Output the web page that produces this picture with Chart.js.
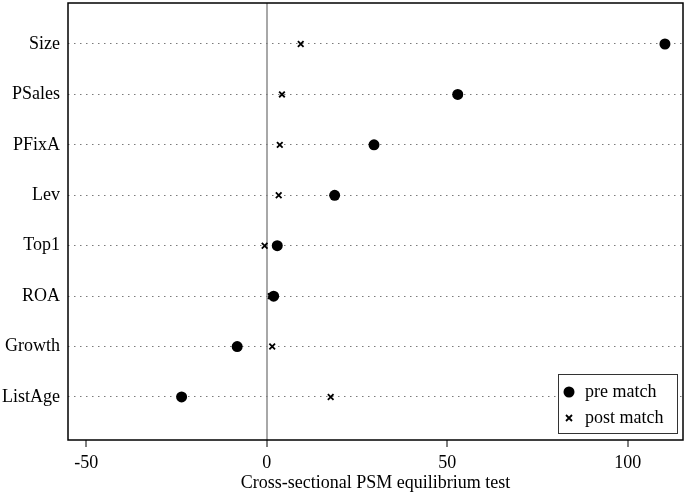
<!DOCTYPE html>
<html>
<head>
<meta charset="utf-8">
<script src="https://cdn.jsdelivr.net/npm/chart.js@4/dist/chart.umd.min.js"></script>
<style>
  html, body { margin: 0; padding: 0; background: #fff; }
  #wrap { width: 685px; height: 492px; }
</style>
</head>
<body>
<div id="wrap"><canvas id="grafico"></canvas></div>
<script>
const categorias = ["Size", "PSales", "PFixA", "Lev", "Top1", "ROA", "Growth", "ListAge"];
const preMatch = [110.3, 52.9, 29.7, 18.8, 2.9, 1.9, -8.2, -23.6];
const postMatch = [9.4, 4.2, 3.6, 3.3, -0.6, 1.1, 1.5, 17.7];
const xTicks = [-50, 0, 50, 100];

const fonte = "'Liberation Serif', 'Times New Roman', serif";

// frame around the plot + legend inside bottom right
const moldura = {
  id: "moldura",
  afterDraw(chart) {
    const { ctx, chartArea: a } = chart;
    ctx.save();
    ctx.strokeStyle = "#000";
    ctx.lineWidth = 1.5;
    ctx.strokeRect(a.left, a.top, a.right - a.left, a.bottom - a.top);

    // legend box
    const bx = 558, by = 374, bw = 119, bh = 59;
    ctx.fillStyle = "#fff";
    ctx.fillRect(bx, by, bw, bh);
    ctx.lineWidth = 1;
    ctx.strokeStyle = "#333";
    ctx.strokeRect(bx + 0.5, by + 0.5, bw, bh);

    ctx.fillStyle = "#000";
    ctx.beginPath();
    ctx.arc(bx + 11, by + 18, 5.5, 0, Math.PI * 2);
    ctx.fill();

    ctx.strokeStyle = "#000";
    ctx.lineWidth = 1.8;
    const cx = bx + 11, cy = by + 44, r = 3;
    ctx.beginPath();
    ctx.moveTo(cx - r, cy - r); ctx.lineTo(cx + r, cy + r);
    ctx.moveTo(cx - r, cy + r); ctx.lineTo(cx + r, cy - r);
    ctx.stroke();

    ctx.font = "18px " + fonte;
    ctx.textBaseline = "middle";
    ctx.fillText(chart.data.datasets[0].label, bx + 27, by + 18);
    ctx.fillText(chart.data.datasets[1].label, bx + 27, by + 44);
    ctx.restore();
  }
};

const ctx = document.getElementById("grafico").getContext("2d");
new Chart(ctx, {
  type: "scatter",
  data: {
    datasets: [
      {
        label: "pre match",
        data: preMatch.map((v, i) => ({ x: v, y: i })),
        pointStyle: "circle",
        pointRadius: 5.5,
        backgroundColor: "#000",
        borderColor: "#000",
        borderWidth: 0
      },
      {
        label: "post match",
        data: postMatch.map((v, i) => ({ x: v, y: i })),
        pointStyle: "crossRot",
        pointRadius: 4,
        borderColor: "#000",
        borderWidth: 1.8
      }
    ]
  },
  options: {
    responsive: true,
    maintainAspectRatio: false,
    animation: false,
    layout: { autoPadding: false, padding: { top: 3, right: 2, left: 0, bottom: 0 } },
    plugins: {
      legend: { display: false },
      tooltip: { enabled: false }
    },
    scales: {
      x: {
        type: "linear",
        min: -55.07,
        max: 115.3,
        afterBuildTicks: (s) => { s.ticks = xTicks.map(v => ({ value: v })); },
        afterFit: (s) => { s.height = 52; s.paddingLeft = 0; s.paddingRight = 0; },
        border: { display: false },
        grid: {
          color: (c) => (c.tick && c.tick.value === 0 ? "#a8a8a8" : "rgba(0,0,0,0)"),
          lineWidth: 2,
          drawTicks: true,
          tickColor: "#000",
          tickWidth: 1,
          tickLength: 7
        },
        ticks: {
          color: "#000",
          padding: 5,
          font: { family: fonte, size: 18 }
        },
        title: {
          display: true,
          text: "Cross-sectional PSM equilibrium test",
          color: "#000",
          padding: { top: 0, bottom: -2 },
          font: { family: fonte, size: 18 }
        }
      },
      y: {
        type: "linear",
        reverse: true,
        min: -0.813,
        max: 7.853,
        afterBuildTicks: (s) => { s.ticks = categorias.map((c, i) => ({ value: i })); },
        afterFit: (s) => { s.width = 68; s.paddingTop = 0; s.paddingBottom = 0; },
        border: { display: false, dash: [1.5, 4.5] },
        grid: {
          color: "#7a7a7a",
          lineWidth: 1,
          drawTicks: false
        },
        ticks: {
          color: "#000",
          padding: 8,
          font: { family: fonte, size: 18 },
          callback: (v) => categorias[v]
        }
      }
    }
  },
  plugins: [moldura]
});
</script>
</body>
</html>
